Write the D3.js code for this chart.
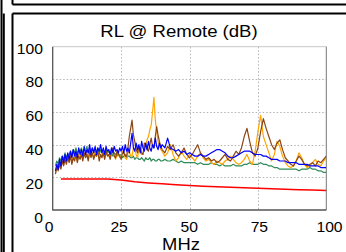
<!DOCTYPE html>
<html><head><meta charset="utf-8">
<script src="https://cdn.jsdelivr.net/npm/d3@7"></script>
<style>html,body{margin:0;padding:0;background:#fff;overflow:hidden}svg{display:block}</style>
</head><body>
<svg id="c" width="346" height="252"></svg>
<script>
const title = "RL @ Remote (dB)";
const xLabel = "MHz";
const xTicks = [0, 25, 50, 75, 100];
const yTicks = [0, 20, 40, 60, 80, 100];
// frequency grid: 0.5 MHz steps to 40 MHz, then 1 MHz steps
const freq = d3.range(1, 40.5, 0.5).concat(d3.range(41, 101));
const blue = [24,28,25,31,27,33,29,34,30,35,31,36,32,37,33,36,32,38,34,37,33,39,34,37,35,40,34,38,35,39,34,38,36,40,35,38,34,39,36,37,34,38,35,39,36,37,35,38,36,39,35,40,36,38,35,41,47,38,36,41,37,40,35,42,38,36,41,37,42,38,36,40,38,44,39,37,41,38,40,
  38,44,38,37,36,37,35,36,34,35,34,33,33,34,33,33,34,35,36,37,37,36,35,33,32,32,33,34,35,36,36,36,35,34,34,34,33,33,32,31,31,31,30,30,30,29,29,29,29,28,28,28,28,27,27,27,27,26,26,26];
const green = [27,30,28,32,30,33,31,35,32,34,34,36,33,37,35,38,34,37,36,38,35,37,36,39,35,37,36,38,35,37,36,38,34,37,35,36,34,37,35,36,34,35,33,35,34,33,35,33,34,32,33,34,32,33,33,32,32,33,31,32,32,31,31,32,31,30,32,31,31,32,30,31,31,30,30,31,31,30,30,
  31,30,30,31,30,29,30,29,29,29,29,29,28,29,28,28,28,29,28,28,27,28,27,27,27,28,27,27,27,28,28,29,28,28,28,29,28,28,27,27,26,26,25,25,25,25,25,25,25,24,25,25,25,26,25,25,24,24,23,23];
const orange = [23,27,25,29,26,31,28,32,29,33,30,34,29,33,31,35,30,34,32,35,31,34,33,36,31,35,33,34,32,36,33,35,31,34,33,36,32,35,34,33,32,36,35,33,31,35,34,32,33,36,35,32,31,35,36,33,33,38,37,34,32,37,36,34,34,38,40,43,45,49,52,60,69,55,48,42,40,37,36,
  33,35,40,34,30,32,36,33,31,34,32,30,33,35,32,30,31,29,28,30,29,28,30,31,33,31,29,28,29,31,34,30,28,36,48,58,45,40,35,30,34,42,39,33,29,27,26,27,30,35,32,28,26,27,29,31,28,27,30,32];
const brown = [22,26,24,28,25,30,27,31,28,32,29,33,28,32,30,34,29,33,31,34,30,35,32,34,30,36,32,35,31,34,33,36,30,34,32,35,31,36,33,34,31,35,38,33,32,36,34,33,31,35,35,33,33,38,45,50,55,46,42,37,35,39,38,35,34,41,40,37,36,40,44,39,38,45,51,46,42,39,37,
  35,39,37,40,35,33,35,38,34,32,34,37,40,35,33,31,32,30,31,29,30,32,34,31,30,33,36,34,38,45,50,42,35,33,38,48,56,50,45,40,37,41,43,37,32,30,28,27,30,33,31,28,27,28,29,27,30,29,31,33];
const limitFreq = [3,5,10,15,20,25,30,35,40,45,50,55,60,65,70,75,80,85,90,95,100];
const limit = [19,19,19,19,19,18.4,17.3,16.6,16,15.5,15,14.6,14.2,13.9,13.6,13.3,13,12.7,12.4,12.2,12];

const svg = d3.select("#c");
const font = "'Liberation Sans', Arial, sans-serif";

// frames
const fr = svg.append("g").attr("fill","none").attr("stroke","#000").attr("stroke-width",2);
fr.append("line").attr("x1",1.5).attr("x2",1.5).attr("y1",0).attr("y2",252);
fr.append("line").attr("x1",3.8).attr("x2",3.8).attr("y1",13.5).attr("y2",252);
fr.append("line").attr("x1",12.5).attr("x2",12.5).attr("y1",0).attr("y2",4.5);
fr.append("line").attr("x1",12.5).attr("x2",346).attr("y1",4.5).attr("y2",4.5);
fr.append("line").attr("x1",12.5).attr("x2",12.5).attr("y1",13.5).attr("y2",252);
fr.append("line").attr("x1",12.5).attr("x2",346).attr("y1",13.5).attr("y2",13.5);

const L = 52.7, R = 326.3, T = 46.7, B = 210;
const x = d3.scaleLinear().domain([0,100]).range([L,R]);
const y = d3.scaleLinear().domain([0,100]).range([B,T]);
const xl = d3.scaleLinear().domain([0,100]).range([49,329.5]);
const yl = d3.scaleLinear().domain([0,100]).range([217.5,48.5]);

// grid
const g = svg.append("g").attr("stroke","#b4b4b4").attr("stroke-width",1).attr("stroke-dasharray","1.5,2");
g.selectAll(".gx").data([25,50,75]).join("line").attr("x1",d=>Math.round(x(d))+0.5).attr("x2",d=>Math.round(x(d))+0.5).attr("y1",T).attr("y2",B);
g.selectAll(".gy").data([20,40,60,80]).join("line").attr("y1",d=>Math.round(y(d))+0.5).attr("y2",d=>Math.round(y(d))+0.5).attr("x1",L).attr("x2",R);

// border
svg.append("line").attr("x1",L).attr("x2",R).attr("y1",T).attr("y2",T).attr("stroke","#c8c8c8");
svg.append("line").attr("x1",R).attr("x2",R).attr("y1",T).attr("y2",B).attr("stroke","#777");
svg.append("line").attr("x1",L).attr("x2",L).attr("y1",T).attr("y2",B+0.5).attr("stroke","#555").attr("stroke-width",1.3);
svg.append("line").attr("x1",L).attr("x2",R).attr("y1",B).attr("y2",B).attr("stroke","#555").attr("stroke-width",1.3);

// data lines
const line = d3.line().x(d=>x(d[0])).y(d=>y(d[1]));
svg.append("clipPath").attr("id","pc").append("rect").attr("x",L).attr("y",T).attr("width",R-L).attr("height",B-T);
const pl = svg.append("g").attr("clip-path","url(#pc)").attr("fill","none").attr("stroke-linejoin","round");
pl.append("path").attr("d",line(d3.zip(limitFreq,limit))).attr("stroke","#ff0000").attr("stroke-width",1.5);
[[green,"#2e8b57"],[orange,"#ffa500"],[brown,"#8b4513"],[blue,"#0000ff"]].forEach(([s,c])=>{
  pl.append("path").attr("d",line(d3.zip(freq,s))).attr("stroke",c).attr("stroke-width",1.2);
});

// texts
function txt(xp, yp, s, size, anchor, sx){
  svg.append("text").attr("transform",`translate(${xp},${yp}) scale(${sx},1)`)
    .attr("text-anchor",anchor).attr("font-family",font).attr("font-size",size).attr("fill","#000").text(s);
}
txt(179, 36.5, title, 16, "middle", 1.16);
yTicks.forEach(t=>txt(43, yl(t)+5, String(t), 14, "end", 1.12));
xTicks.forEach(t=>txt(xl(t), 231.7, String(t), 14, "middle", 1.12));
txt(181, 249.5, xLabel, 16, "middle", 1.15);
</script>
</body></html>
